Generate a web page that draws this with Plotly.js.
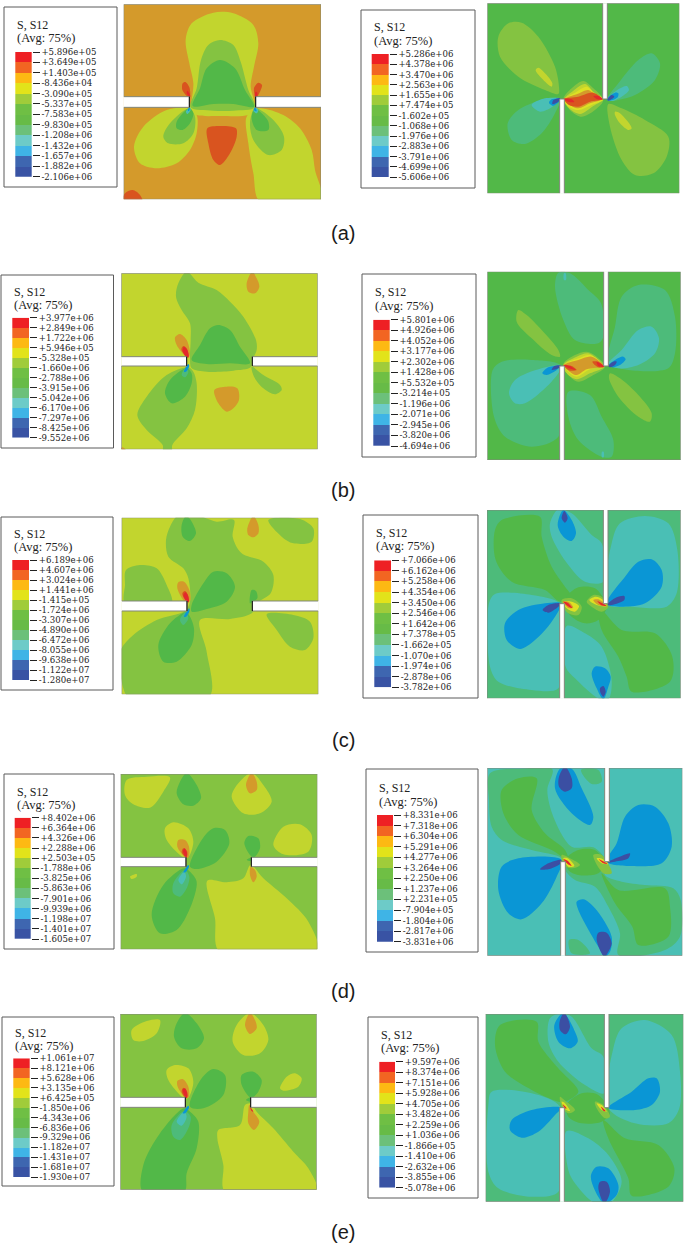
<!DOCTYPE html>
<html><head><meta charset="utf-8">
<script src="https://cdn.plot.ly/plotly-3.0.1.min.js"></script>
<style>html,body{margin:0;padding:0;background:#fff}#c{width:685px;height:1245px}</style>
</head><body><div id="c"></div>
<script>
// Colour band of every stress level in the contour plots
const bandColors={b:'#3b4fa3',c:'#0a96d5',d:'#4abfb5',e:'#4dbb7a',f:'#52b848',g:'#84c341',h:'#c2d52e',y:'#dde024',i:'#d49a2b',j:'#d9541f',k:'#e4282b'};
const legendColors=['#ee2024','#f26522','#fdb913','#e2e31a','#a0cc3a','#6fbf44','#67bb47','#6cc07a','#6dcbc8','#3fb4e6','#3e66b0','#3953a4'];

// Legend tick labels
const ticksAL=['+5.896e+05','+3.649e+05','+1.403e+05','-8.436e+04','-3.090e+05','-5.337e+05','-7.583e+05','-9.830e+05','-1.208e+06','-1.432e+06','-1.657e+06','-1.882e+06','-2.106e+06'];
const ticksAR=['+5.286e+06','+4.378e+06','+3.470e+06','+2.563e+06','+1.655e+06','+7.474e+05','-1.602e+05','-1.068e+06','-1.976e+06','-2.883e+06','-3.791e+06','-4.699e+06','-5.606e+06'];
const ticksBL=['+3.977e+06','+2.849e+06','+1.722e+06','+5.946e+05','-5.328e+05','-1.660e+06','-2.788e+06','-3.915e+06','-5.042e+06','-6.170e+06','-7.297e+06','-8.425e+06','-9.552e+06'];
const ticksBR=['+5.801e+06','+4.926e+06','+4.052e+06','+3.177e+06','+2.302e+06','+1.428e+06','+5.532e+05','-3.214e+05','-1.196e+06','-2.071e+06','-2.945e+06','-3.820e+06','-4.694e+06'];
const ticksCL=['+6.189e+06','+4.607e+06','+3.024e+06','+1.441e+06','-1.415e+05','-1.724e+06','-3.307e+06','-4.890e+06','-6.472e+06','-8.055e+06','-9.638e+06','-1.122e+07','-1.280e+07'];
const ticksCR=['+7.066e+06','+6.162e+06','+5.258e+06','+4.354e+06','+3.450e+06','+2.546e+06','+1.642e+06','+7.378e+05','-1.662e+05','-1.070e+06','-1.974e+06','-2.878e+06','-3.782e+06'];
const ticksDL=['+8.402e+06','+6.364e+06','+4.326e+06','+2.288e+06','+2.503e+05','-1.788e+06','-3.825e+06','-5.863e+06','-7.901e+06','-9.939e+06','-1.198e+07','-1.401e+07','-1.605e+07'];
const ticksDR=['+8.331e+06','+7.318e+06','+6.304e+06','+5.291e+06','+4.277e+06','+3.264e+06','+2.250e+06','+1.237e+06','+2.231e+05','-7.904e+05','-1.804e+06','-2.817e+06','-3.831e+06'];
const ticksEL=['+1.061e+07','+8.121e+06','+5.628e+06','+3.135e+06','+6.425e+05','-1.850e+06','-4.343e+06','-6.836e+06','-9.329e+06','-1.182e+07','-1.431e+07','-1.681e+07','-1.930e+07'];
const ticksER=['+9.597e+06','+8.374e+06','+7.151e+06','+5.928e+06','+4.705e+06','+3.482e+06','+2.259e+06','+1.036e+06','-1.866e+05','-1.410e+06','-2.632e+06','-3.855e+06','-5.078e+06'];

// Contour regions: [band, [x,y, x,y, ...]] in the order they are painted
const regionsAL=[
['h',[575,300,580,250,568,190,557,120,575,70,640,38,700,40,760,75,775,130,762,200,752,260,762,300,765,330,745,345,660,348,590,345,570,330]],
['g',[572,322,590,265,603,180,625,135,660,120,700,135,722,185,745,270,765,322,700,332,640,332]],
['f',[578,318,600,265,620,205,660,180,705,205,735,270,762,320,700,312,640,312]],
['j',[566,292,547,270,548,250,556,246,568,262,570,290]],
['k',[568,290,560,280,562,272,568,280,571,290]],
['j',[767,292,762,265,775,248,786,255,780,275,770,292]],
['k',[765,290,767,275,772,278,770,292]],
['h',[565,325,500,330,430,380,402,440,420,490,470,505,530,490,570,450,590,400,590,345]],
['g',[568,325,510,370,490,410,505,430,550,430,580,400,585,350]],
['f',[568,325,530,365,530,385,548,390,570,370,580,340]],
['d',[570,322,558,335,562,342,572,330]],
['c',[570,322,563,330,567,333]],
['h',[775,325,850,345,900,385,935,450,945,510,965,605,780,605,760,520,745,430,740,350]],
['g',[765,325,750,370,760,420,805,465,845,450,852,410,820,360]],
['f',[765,325,755,355,770,390,805,390,805,365,785,340]],
['d',[765,322,760,332,770,340,775,330]],
['c',[765,322,762,330,770,334]],
['j',[622,385,660,378,708,385,710,410,690,460,660,495,640,480,625,430]],
['j',[365,610,375,580,398,570,420,585,428,610]]];
const regionsAR=[
['g',[640,282,600,270,520,230,465,170,460,110,490,70,530,68,580,110,630,200,642,260]],
['h',[620,260,590,235,572,210,580,203,605,225,622,250]],
['g',[790,312,830,325,900,360,970,410,965,470,925,520,870,525,830,480,795,380]],
['h',[810,335,825,340,860,385,850,390,825,370,810,345]],
['e',[645,295,590,300,520,330,488,370,500,420,540,432,590,400,630,340]],
['d',[645,297,600,295,560,315,585,335,620,322]],
['c',[648,297,620,298,612,308,625,317]],
['b',[645,294,625,300,622,312,640,305]],
['e',[785,300,820,250,880,180,920,160,945,190,930,240,870,285,800,303]],
['d',[787,298,820,268,845,258,852,270,830,290,800,303]],
['c',[785,298,810,278,820,280,818,292,795,302]],
['b',[787,300,800,285,808,290,790,302]],
['g',[655,298,680,265,715,243,745,265,775,300,750,330,710,350,680,335]],
['h',[658,298,685,272,720,252,745,275,775,298,745,318,705,342,672,325]],
['y',[658,298,690,278,725,260,748,280,775,298,740,315,700,330,668,318]],
['i',[658,298,695,283,730,270,750,285,772,297,735,310,700,325,670,312]],
['j',[658,298,700,290,745,278,772,298,735,305,700,320,672,315]],
['k',[655,296,680,298,688,306,670,305]],
['k',[745,288,760,288,775,298,755,297]]];
const regionsBL=[
['g',[560,35,595,68,650,90,690,125,730,170,768,240,770,270,757,300,752,322,700,332,620,335,575,325,570,290,572,240,570,190,545,150,528,110,535,70]],
['g',[755,320,790,345,840,375,845,390,825,403,790,385,762,350]],
['g',[565,322,500,345,440,410,412,465,440,510,488,555,490,575,515,575,517,555,560,505,585,450,590,370,580,335]],
['f',[575,300,600,255,630,205,655,195,690,210,720,260,750,310,690,310,620,312]],
['f',[560,325,510,360,495,400,515,430,555,410,575,370,575,340]],
['e',[558,322,545,345,555,352,565,335]],
['c',[565,312,552,335,558,335,568,318]],
['i',[558,290,530,255,525,232,540,222,560,240,570,280,566,292]],
['j',[555,285,544,268,550,258,560,265,565,288]],
['k',[560,292,548,272,552,260,562,270,566,292]],
['i',[757,35,740,70,745,95,765,100,778,80,770,55]],
['i',[643,390,680,380,712,385,717,420,700,445,680,455,655,430]],
['i',[360,572,366,562,378,570,378,575]]];
const regionsBR=[
['e',[640,38,675,40,730,90,768,130,775,230,760,250,690,240,655,180,630,80]],
['e',[790,310,810,200,830,110,880,75,960,90,990,170,990,280,970,325,850,330]],
['e',[650,318,560,300,470,305,443,330,447,470,480,530,560,560,640,530,650,400]],
['e',[670,395,735,405,770,470,805,540,800,590,770,590,700,540,670,470]],
['g',[520,150,545,165,590,210,640,270,645,290,620,285,560,235,515,185]],
['g',[795,340,825,355,880,405,920,460,915,485,880,470,820,410,792,355]],
['d',[790,312,830,270,880,210,920,200,942,235,930,280,880,315,820,325]],
['c',[792,315,810,300,835,290,842,298,825,315,800,322]],
['b',[790,318,805,305,815,305,810,315,795,322]],
['d',[648,318,590,325,510,360,492,400,510,430,540,430,600,385,640,340]],
['c',[645,318,610,322,592,340,605,345,635,330]],
['b',[648,317,628,318,620,330,640,325]],
['d',[657,40,662,40,663,60,657,60]],
['d',[771,575,776,575,776,592,771,592]],
['g',[655,312,690,285,725,275,755,290,780,320,745,345,700,365,670,345]],
['h',[655,315,695,290,730,280,765,305,778,320,735,340,695,358,665,340]],
['y',[658,315,700,295,735,285,770,312,730,330,695,350,670,335]],
['i',[658,315,700,300,740,290,775,318,725,328,695,345,670,332]],
['j',[655,315,680,318,695,330,675,332,660,322]],
['j',[742,305,760,305,778,320,760,322]],
['k',[655,315,675,318,692,330,672,325]],
['k',[755,305,778,320,760,318]]];
const regionsCL=[
['g',[535,30,590,30,650,50,702,45,698,95,725,145,790,170,820,210,812,265,770,295,755,325,690,342,600,345,620,440,628,575,385,575,370,550,360,440,400,390,470,345,555,318,570,290,565,220,550,190,505,155,498,105,510,65]],
['g',[378,195,420,180,470,190,500,240,515,295,375,295,375,240]],
['g',[805,45,900,42,940,70,935,110,880,115,845,95]],
['g',[800,328,880,330,930,350,940,400,915,435,870,425,830,375]],
['f',[575,300,610,235,640,200,680,205,705,245,680,290,620,312,575,320]],
['f',[558,33,570,42,588,85,570,108,548,95,545,60]],
['f',[558,322,510,355,475,420,490,470,530,470,575,420,582,370,570,335]],
['f',[750,295,755,255,768,258,772,280,758,290]],
['e',[556,322,540,345,550,360,565,340]],
['c',[568,310,552,335,558,335,568,320]],
['i',[555,290,532,250,535,232,552,230,568,255,570,288]],
['j',[556,285,547,265,555,258,564,270,566,290]],
['k',[560,290,550,270,557,262,565,275,566,292]],
['i',[760,33,742,70,745,90,760,97,775,85,775,60]]];
const regionsCR=[
['f',[470,60,585,50,590,110,620,200,660,260,680,290,645,305,600,270,500,245,452,180,450,90]],
['f',[760,320,830,390,930,400,982,470,975,545,860,575,845,530,820,470,770,390]],
['f',[665,290,700,262,750,265,785,320,760,360,720,370,680,350,660,320]],
['d',[640,28,680,40,740,105,770,130,775,245,720,245,670,195,620,110,615,70]],
['d',[785,312,800,130,825,70,900,48,970,70,997,150,995,280,965,320,860,320]],
['d',[645,312,560,285,450,282,432,310,435,500,460,545,560,570,640,565,645,400]],
['d',[665,378,720,400,770,440,800,540,790,598,765,598,690,535,662,500]],
['c',[655,30,680,60,693,100,680,123,655,110,638,75]],
['b',[658,33,668,55,660,68,650,55]],
['c',[785,312,840,230,880,185,920,178,950,210,950,260,900,310,830,320]],
['c',[648,310,600,310,520,330,480,370,485,420,525,447,570,420,620,365]],
['b',[648,310,610,315,593,330,610,338,640,320]],
['b',[785,315,815,292,838,288,838,300,800,315]],
['c',[775,598,790,560,797,530,780,505,750,500,740,520,755,565]],
['b',[775,590,782,575,775,558,765,565,767,580]],
['g',[650,300,680,295,710,320,700,345,670,340,655,320]],
['g',[725,305,745,285,770,290,790,320,770,335,740,320]],
['y',[655,305,680,305,702,318,690,335,665,325]],
['i',[655,305,670,305,685,322,672,325]],
['k',[655,305,670,310,682,325,668,318]],
['y',[733,300,752,290,775,300,785,318,755,315]],
['i',[745,300,760,298,785,318,760,315]],
['k',[757,303,785,318,770,316]]];
const regionsDL=[
['h',[380,45,440,35,510,37,490,80,450,128,400,118,375,90]],
['h',[755,24,790,60,815,110,780,145,730,145,695,95,715,55]],
['h',[555,280,500,225,495,190,520,172,565,190,580,230,565,277]],
['h',[850,185,900,178,935,210,925,260,850,268,820,240]],
['h',[622,347,680,352,730,340,752,300,790,340,860,400,925,470,952,560,658,560,645,460]],
['h',[390,335,410,327,410,335,395,342]],
['f',[560,24,590,60,603,100,580,122,550,118,530,85,540,50]],
['f',[570,305,605,225,640,190,675,195,688,235,650,290,590,312]],
['f',[552,310,490,360,455,450,480,505,530,495,570,430,590,350,570,320]],
['f',[755,275,733,235,745,213,775,220,780,250,765,275]],
['f',[740,285,755,278,755,288]],
['e',[555,315,520,355,520,385,540,395,560,370,568,335]],
['d',[553,320,535,345,545,358,558,335]],
['c',[565,300,550,322,556,322,567,305]],
['i',[558,278,532,245,535,225,555,225,567,245,566,277]],
['j',[557,276,545,262,550,250,562,260]],
['k',[559,278,549,258,554,250,562,268]],
['i',[752,305,750,330,760,352,770,335,765,315]],
['i',[755,24,738,60,750,85,770,75,770,50]]];
const regionsDR=[
['e',[435,40,530,26,622,28,607,90,625,170,680,260,745,262,785,305,780,345,830,365,900,375,985,385,1007,420,1005,530,960,570,820,585,825,520,790,440,750,380,690,360,660,330,650,295,560,270,470,240,440,200,432,120]],
['e',[708,30,760,30,770,65,740,72]],
['e',[672,540,700,540,735,580,680,580]],
['f',[470,90,520,55,575,55,560,150,600,220,660,270,670,300,620,270,520,225,475,160]],
['f',[665,295,700,270,750,270,780,310,760,340,700,345,670,330]],
['f',[770,340,820,390,960,385,975,440,970,530,880,555,862,500,810,430]],
['c',[645,26,680,26,710,85,745,170,735,195,680,160,630,85]],
['b',[660,20,680,55,680,85,660,95,642,80,642,50]],
['c',[785,305,815,250,840,170,880,135,930,140,970,190,980,260,950,310,860,318]],
['b',[785,308,820,292,855,280,850,295,810,305]],
['c',[650,300,520,295,470,320,460,390,490,460,530,478,590,430,635,350]],
['b',[650,300,610,310,585,328,610,328,645,312]],
['c',[780,590,760,560,700,450,695,425,715,418,750,445,800,530,795,575]],
['b',[778,590,755,540,760,518,785,518,800,550,790,575]],
['g',[650,285,675,295,705,315,680,325,655,315]],
['y',[655,295,668,295,688,318,670,320]],
['k',[655,298,668,302,680,318,668,312]],
['g',[745,285,770,285,800,340,775,340]],
['y',[755,295,768,295,790,312,770,310]],
['k',[762,298,788,312,772,308]]];
const regionsEL=[
['h',[395,75,440,48,480,45,470,85,430,108,400,105]],
['h',[750,24,790,60,805,105,780,145,730,150,698,110,710,60]],
['h',[553,280,505,225,500,195,525,180,565,190,580,230,565,278]],
['h',[840,250,860,215,885,205,905,220,895,245,850,257]],
['h',[735,300,752,295,770,320,820,370,880,440,925,490,950,560,675,560,670,480,652,400,655,375,720,360]],
['f',[555,24,590,55,612,100,590,130,545,130,522,95,530,55]],
['f',[570,305,605,220,640,192,675,210,670,270,610,310]],
['f',[750,277,725,240,725,210,760,200,785,225,775,260,758,277]],
['f',[738,285,752,277,752,290]],
['f',[552,310,480,385,430,480,428,560,553,560,560,505,590,430,595,350,570,320]],
['e',[553,318,515,360,520,395,540,405,565,370,572,335]],
['d',[553,320,530,350,545,362,560,335]],
['c',[565,302,548,325,555,325,567,308]],
['i',[556,277,533,245,532,228,548,222,565,245,566,277]],
['j',[556,277,545,260,550,248,562,262]],
['k',[560,280,548,255,555,250,563,270]],
['i',[750,24,735,60,750,87,770,70,765,45]],
['i',[748,300,760,320,778,350,762,375,745,355,745,320]],
['k',[750,305,760,320,755,318]]];
const regionsER=[
['f',[465,60,575,50,580,110,640,190,700,260,660,290,640,290,560,255,480,200,450,120]],
['f',[665,300,710,265,760,270,795,325,770,350,710,355,670,335]],
['f',[775,345,840,400,940,420,988,490,970,545,860,572,850,520,790,400]],
['d',[615,40,645,26,680,35,740,130,775,155,778,265,720,240,640,170,610,110]],
['d',[790,308,805,130,830,70,900,45,980,90,1005,200,1003,310,970,355,870,355]],
['d',[645,305,560,265,440,260,430,300,430,500,460,550,560,575,640,560,645,400]],
['d',[665,378,730,400,790,450,830,530,795,595,750,595,680,520,665,470]],
['c',[655,24,690,80,698,110,675,130,640,110,628,60]],
['b',[658,24,675,65,662,88,645,75,645,45]],
['c',[790,308,860,260,910,220,935,220,945,260,920,300,870,315]],
['c',[648,308,560,315,500,345,495,375,530,398,580,380,630,330]],
['c',[778,595,745,545,738,510,755,485,790,490,820,540,815,570]],
['b',[778,595,760,550,765,530,785,530,795,560]],
['g',[645,275,658,285,690,315,670,325,650,305]],
['y',[650,290,660,295,675,318,660,312]],
['k',[653,298,665,310,660,310]],
['g',[750,290,775,300,795,335,780,340,755,310]],
['y',[755,295,770,300,785,320,770,315]],
['k',[768,305,782,318,776,318]]];

const captions=['(a)','(b)','(c)','(d)','(e)'];
const captionY=[233,490,740,991,1232];

// Page layout of each panel: crop origin, plot rectangle, notch, legend box, swatch, title heights
const panels=[
{r:regionsAL,t:ticksAL,bg:'i',kind:'h',o:[0,0],p:[371,963,13,598],n:[290,322,568,767],box:[4,117,7,187],sw:[15.3,31.7,52,176.7],ty:[25,38]},
{r:regionsAR,t:ticksAR,bg:'f',kind:'v',o:[345,0],p:[427,1003,10,580],n:[773,787,644,658,297],box:[361,475,10,188],sw:[371.7,388.7,54,177],ty:[27,41]},
{r:regionsBL,t:ticksBL,bg:'h',kind:'h',o:[0,260],p:[364,953,40,568],n:[290,318,560,757],box:[1,113.5,275,448],sw:[12.3,29,317.7,437.7],ty:[292,305]},
{r:regionsBR,t:ticksBR,bg:'f',kind:'v',o:[345,260],p:[427,1007,35,600],n:[776,790,644,658,318],box:[362,476,274,457],sw:[373.3,389.7,319.7,446],ty:[292,306]},
{r:regionsCL,t:ticksCL,bg:'h',kind:'h',o:[0,505],p:[365,955,38,568],n:[288,318,561,757],box:[1,113,517,690],sw:[12.3,29,560,680],ty:[534,547]},
{r:regionsCR,t:ticksCR,bg:'e',kind:'v',o:[345,500],p:[426,1007,30,595],n:[775,789,644,658,311],box:[363,478,515,698],sw:[374.3,391,560.3,687.3],ty:[533,546]},
{r:regionsDL,t:ticksDL,bg:'g',kind:'h',o:[0,765],p:[362,952,27,553],n:[277,305,558,754],box:[4,114,774,949],sw:[14.7,30.7,817.7,939],ty:[792,805]},
{r:regionsDR,t:ticksDR,bg:'d',kind:'v',o:[345,760],p:[427,1012,24,587],n:[779,793,647,661,305],box:[366,478,769,952],sw:[377,393,815,941.7],ty:[788,802]},
{r:regionsEL,t:ticksEL,bg:'g',kind:'h',o:[0,1005],p:[361,950,27,554],n:[277,307,556,752],box:[2,114,1017,1186],sw:[13.3,29.7,1058.3,1177],ty:[1033,1046]},
{r:regionsER,t:ticksER,bg:'e',kind:'v',o:[345,1005],p:[422,1015,27,590],n:[778,792,644,658,308],box:[368,478,1017,1198],sw:[379.3,395,1061.7,1187.7],ty:[1035,1048]}
];

const W=685,H=1245;
const fx=v=>v/W, fy=v=>1-v/H;
const serif='"Liberation Serif","Times New Roman",serif';
const tickFamily='"DejaVu Serif",serif';
const hidden={visible:false,fixedrange:true};
const layout={width:W,height:H,margin:{l:0,r:0,t:0,b:0},paper_bgcolor:'#fff',plot_bgcolor:'#fff',showlegend:false,shapes:[],annotations:[]};
const traces=[];

const legendScale=[];
legendColors.forEach((c,i)=>{legendScale.push([i/12,c]);legendScale.push([(i+1)/12,c]);});

panels.forEach((P,idx)=>{
  const a=idx*2+1,b=idx*2+2;
  const xa='x'+a,ya='y'+a,xl='x'+b,yl='y'+b;
  const [x0,x1,y0,y1]=P.p;
  const [cx,cy]=P.o;
  layout.shapes.push({type:'rect',xref:'paper',yref:'paper',layer:'below',
    x0:fx(P.box[0]),x1:fx(P.box[1]),y0:fy(P.box[2]),y1:fy(P.box[3]),
    fillcolor:'#fff',line:{color:'#5a5a5a',width:1}});
  layout['xaxis'+a]=Object.assign({},hidden,{domain:[fx(cx+x0/3),fx(cx+x1/3)],range:[x0,x1],anchor:ya});
  layout['yaxis'+a]=Object.assign({},hidden,{domain:[fy(cy+y1/3),fy(cy+y0/3)],range:[y1,y0],anchor:xa});
  layout.shapes.push({type:'rect',xref:xa,yref:ya,layer:'below',x0,x1,y0,y1,fillcolor:bandColors[P.bg],line:{width:0}});
  P.r.forEach(([band,pts])=>{
    const xs=[],ys=[];
    for(let i=0;i<pts.length;i+=2){xs.push(pts[i]);ys.push(pts[i+1]);}
    xs.push(pts[0]);ys.push(pts[1]);
    traces.push({type:'scatter',mode:'lines',x:xs,y:ys,xaxis:xa,yaxis:ya,fill:'toself',fillcolor:bandColors[band],
      line:{width:0,shape:'spline',smoothing:0.9,color:bandColors[band]},hoverinfo:'skip'});
  });
  let outline;
  if(P.kind==='h'){
    const [g0,g1,tL,tR]=P.n;
    layout.shapes.push({type:'rect',xref:xa,yref:ya,x0:x0-6,x1:tL,y0:g0,y1:g1,fillcolor:'#fff',line:{width:0}});
    layout.shapes.push({type:'rect',xref:xa,yref:ya,x0:tR,x1:x1+6,y0:g0,y1:g1,fillcolor:'#fff',line:{width:0}});
    outline=`M${x0},${y0}H${x1}V${g0}H${tR}V${g1}H${x1}V${y1}H${x0}V${g1}H${tL}V${g0}H${x0}Z`;
  }else{
    const [u0,u1,l0,l1,tip]=P.n;
    layout.shapes.push({type:'rect',xref:xa,yref:ya,x0:u0,x1:u1,y0:y0-6,y1:tip,fillcolor:'#fff',line:{width:0}});
    layout.shapes.push({type:'rect',xref:xa,yref:ya,x0:l0,x1:l1,y0:tip,y1:y1+6,fillcolor:'#fff',line:{width:0}});
    outline=`M${x0},${y0}H${u0}V${tip}H${u1}V${y0}H${x1}V${y1}H${l1}V${tip}H${l0}V${y1}H${x0}Z`;
  }
  layout.shapes.push({type:'path',xref:xa,yref:ya,path:outline,line:{color:'#80867a',width:1},fillcolor:'rgba(0,0,0,0)'});
  if(P.kind==='h'){
    const [g0,g1,tL,tR]=P.n;
    [tL,tR].forEach(t=>layout.shapes.push({type:'line',xref:xa,yref:ya,x0:t,x1:t,y0:g0,y1:g1,line:{color:'#111',width:1}}));
  }
  layout['xaxis'+b]=Object.assign({},hidden,{domain:[fx(P.sw[0]),fx(P.sw[1])],range:[0,1],anchor:yl});
  layout['yaxis'+b]={domain:[fy(P.sw[3]),fy(P.sw[2])],range:[12,0],anchor:xl,side:'right',fixedrange:true,
    tickmode:'array',tickvals:P.t.map((_,i)=>i),ticktext:P.t,ticks:'outside',ticklen:7,tickwidth:1,tickcolor:'#222',
    showgrid:false,zeroline:false,showline:false,tickfont:{family:tickFamily,size:8.6,color:'#222'}};
  traces.push({type:'heatmap',x:[0,1],y:legendColors.map((_,i)=>i+0.5),z:legendColors.map((_,i)=>[i+0.5,i+0.5]),
    xaxis:xl,yaxis:yl,zmin:0,zmax:12,colorscale:legendScale,showscale:false,hoverinfo:'skip',xgap:0,ygap:0});
  const tx=fx(P.sw[0]);
  layout.annotations.push({xref:'paper',yref:'paper',x:tx,y:fy(P.ty[0]),xanchor:'left',yanchor:'middle',showarrow:false,text:'S, S12',font:{family:serif,size:12,color:'#222'}});
  layout.annotations.push({xref:'paper',yref:'paper',x:tx,y:fy(P.ty[1]),xanchor:'left',yanchor:'middle',showarrow:false,text:'(Avg: 75%)',font:{family:serif,size:12.5,color:'#222'}});
});
captions.forEach((t,i)=>layout.annotations.push({xref:'paper',yref:'paper',x:fx(343),y:fy(captionY[i]),xanchor:'center',yanchor:'middle',showarrow:false,text:t,font:{family:'"Liberation Sans",Arial,sans-serif',size:20,color:'#1a1a1a'}}));

Plotly.newPlot('c',traces,layout,{displayModeBar:false,staticPlot:true});
</script></body></html>
